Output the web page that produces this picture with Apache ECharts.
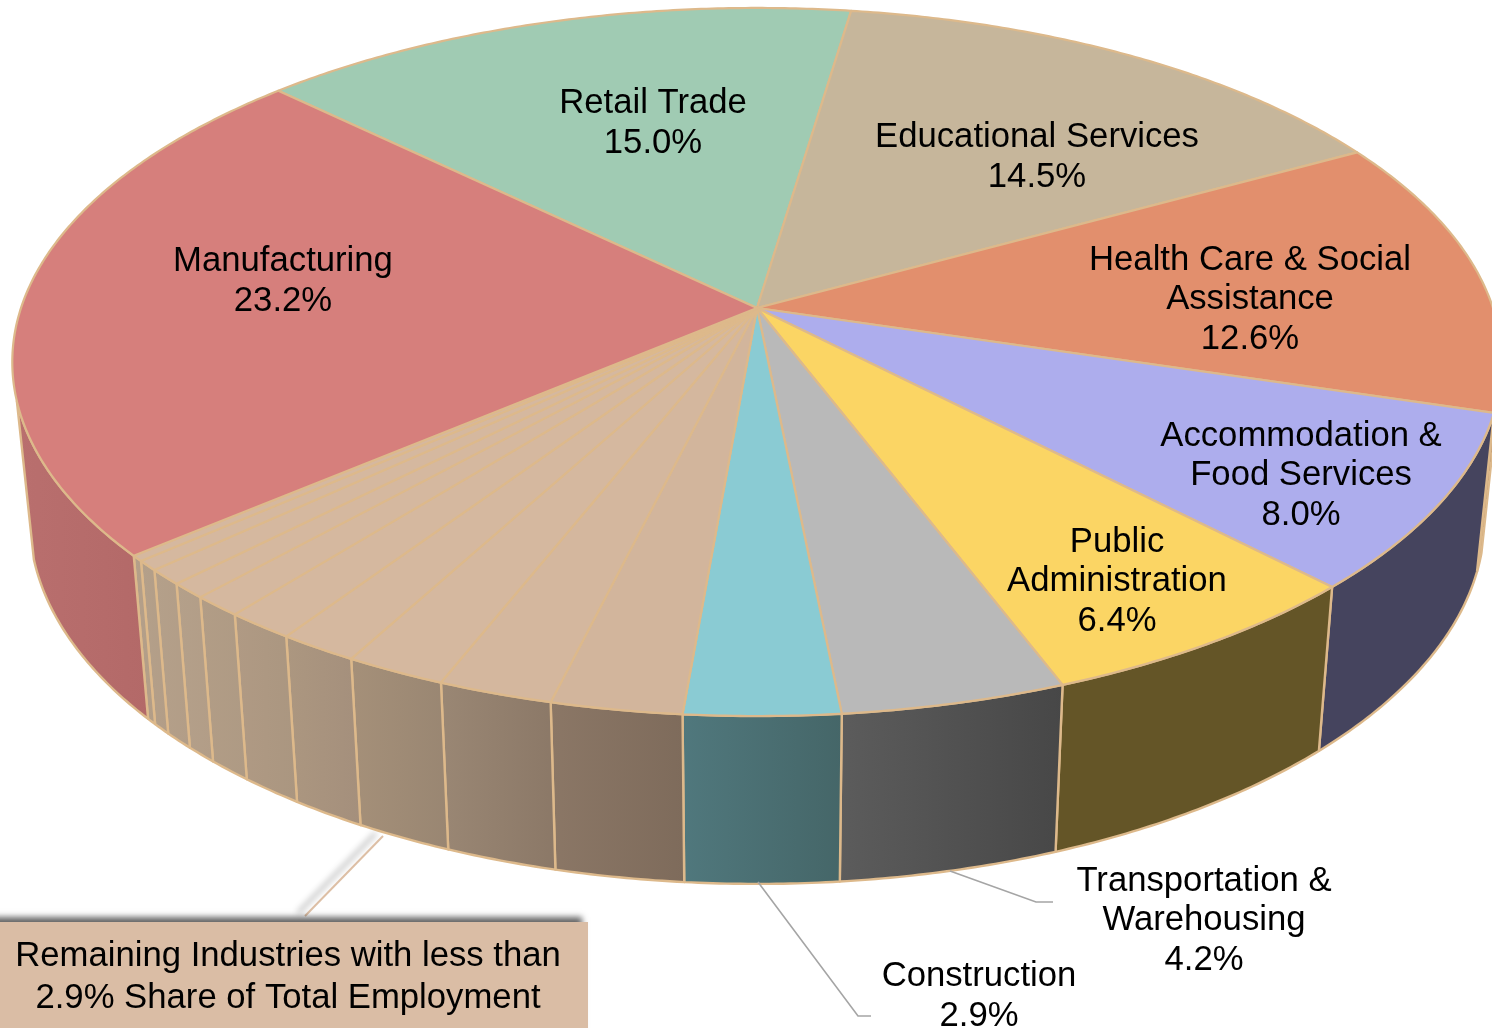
<!DOCTYPE html>
<html>
<head>
<meta charset="utf-8">
<style>html,body{margin:0;padding:0;background:#fff}#c{width:1492px;height:1028px}</style>
<script src="https://cdn.jsdelivr.net/npm/echarts@6/dist/echarts.min.js"></script>
</head>
<body>
<div id="c"></div>
<script>
// ---- data ----
const categories = ['Retail Trade','Educational Services','Health Care & Social\nAssistance','Accommodation &\nFood Services','Public\nAdministration','Transportation &\nWarehousing','Construction','Other A','Other B','Other C','Other D','Other E','Other F','Other G','Other H','Other I','Other J','Manufacturing'];
const shares = [15.0,14.5,12.6,8.0,6.4,4.2,2.9,2.45,2.15,1.9,1.5,1.3,0.95,0.7,0.7,0.45,0.25,23.2];
const shownLabels = ['15.0%','14.5%','12.6%','8.0%','6.4%','4.2%','2.9%','','','','','','','','','','','23.2%'];

// ---- styles ----
const topColors = ['#A0CBB3','#C6B69B','#E28F6D','#ADADED','#FBD564','#B9B9B9','#8ACBD3','#D2B59C','#D4B79E','#D5B89F','#D5B89F','#D5B89F','#D5B89F','#D5B89F','#D5B89F','#D5B89F','#D5B89F','#D67F7C'];
const wallLeft = ['#000','#000','#77452E','#45445E','#645527','#5C5C5C','#50787D','#8B7766','#9A8774','#A59079','#AC9780','#B09A84','#B29D86','#B4A08A','#B4A08A','#B4A08A','#B4A08A','#B96F6E'];
const wallRight = ['#000','#000','#6B3F2A','#45445E','#645527','#474747','#456668','#7E6B5B','#8B7867','#998672','#A48F7C','#AA9680','#AE9A84','#B29D87','#B29D87','#B29D87','#B29D87','#B36968'];
const edge = '#DDB98B';

// ---- layout of the projected disc ----
const P = {cx:757, cy:308, A:736, B:345.8, k:0.1525, start:314, drop:716, dropSlope:1.03, dropY:553, shrink:0.977};
const labelAt = {0:[653,122],1:[1037,156],2:[1250,298],3:[1301,474],4:[1117,580],5:[1204,919],6:[979,995],17:[283,280]};
const FONT = 'Liberation Sans, Arial, sans-serif';
const FS = 34.7, LH = 39.5;

const total = shares.reduce((a,b)=>a+b,0);
function angles(i){
  let s = P.start;
  for(let j=0;j<i;j++) s += shares[j]/total*360;
  return [s, s + shares[i]/total*360];
}
function rimTop(deg){
  const t = deg*Math.PI/180, u = Math.sin(t), v = -Math.cos(t), s = 1/(1-P.k*v);
  return [P.cx+P.A*u*s, P.cy+P.B*v*s];
}
function rimBottom(deg){
  const p = rimTop(deg);
  return [P.cx+P.shrink*(p[0]-P.cx), P.drop+P.dropSlope*(p[1]-P.dropY)];
}
function arc(a,b,fn){
  const out=[], n=Math.max(2,Math.ceil((b-a)/0.5));
  for(let i=0;i<=n;i++) out.push(fn(a+(b-a)*i/n));
  return out;
}
const seriesData = shares.map((v,i)=>({name:categories[i],value:v}));

function renderTop(params){
  const i=params.dataIndex, [a,b]=angles(i);
  return {type:'polygon',shape:{points:[[P.cx,P.cy]].concat(arc(a,b,rimTop))},
    style:{fill:topColors[i],stroke:edge,lineWidth:2.2,lineJoin:'round'}};
}
function renderWall(params){
  const i=params.dataIndex; let [a,b]=angles(i);
  // only the part of the rim that faces the viewer, closed along the silhouette
  const lo=104, hi=255;
  const a0=((a%360)+360)%360; b=a0+(b-a); a=a0;
  if(a>=hi||b<=lo) return null;
  a=Math.max(a,lo); b=Math.min(b,hi);
  const pts=arc(a,b,rimTop).concat(arc(a,b,rimBottom).reverse());
  return {type:'polygon',shape:{points:pts},
    style:{fill:new echarts.graphic.LinearGradient(1,0,0,0,[{offset:0,color:wallRight[i]},{offset:1,color:wallLeft[i]}]),
      stroke:edge,lineWidth:2.4,lineJoin:'round'}};
}
function renderLabel(params){
  const i=params.dataIndex;
  if(!labelAt[i]) return null;
  return {type:'text',style:{text:categories[i]+'\n'+shownLabels[i],x:labelAt[i][0],y:labelAt[i][1]+1.5,
    align:'center',verticalAlign:'middle',font:FS+'px '+FONT,lineHeight:LH,fill:'#000'}};
}
const chart = echarts.init(document.getElementById('c'),null,{renderer:'canvas'});
chart.setOption({
  animation:false,
  backgroundColor:'#fff',
  series:[
    {type:'custom',coordinateSystem:'none',renderItem:renderWall,data:seriesData,z:1,silent:true},
    {type:'custom',coordinateSystem:'none',renderItem:renderTop,data:seriesData,z:2,silent:true},
    {type:'custom',coordinateSystem:'none',renderItem:renderLabel,data:seriesData,z:5,silent:true}
  ],
  graphic:[
    {type:'polyline',z:3,shape:{points:[[950,871],[1036,902],[1053,902]]},style:{stroke:'#A5A5A5',lineWidth:1.6,fill:null}},
    {type:'polyline',z:3,shape:{points:[[758,882],[858,1016],[871,1016]]},style:{stroke:'#A5A5A5',lineWidth:1.6,fill:null}},
    {type:'line',z:0,shape:{x1:383,y1:836,x2:305,y2:916},style:{stroke:'#DDBFA5',lineWidth:2,shadowColor:'rgba(0,0,0,0.45)',shadowBlur:6,shadowOffsetX:-7,shadowOffsetY:-3}},
    {type:'rect',z:3,shape:{x:-20,y:922,width:608,height:130},style:{fill:'#DABDA5',shadowColor:'rgba(0,0,0,0.6)',shadowBlur:6,shadowOffsetX:-6,shadowOffsetY:-5}},
    {type:'text',z:4,style:{text:'Remaining Industries with less than\n2.9% Share of Total Employment',x:288,y:977.5,align:'center',verticalAlign:'middle',font:FS+'px '+FONT,lineHeight:42,fill:'#000'}}
  ]
});
</script>
</body>
</html>
